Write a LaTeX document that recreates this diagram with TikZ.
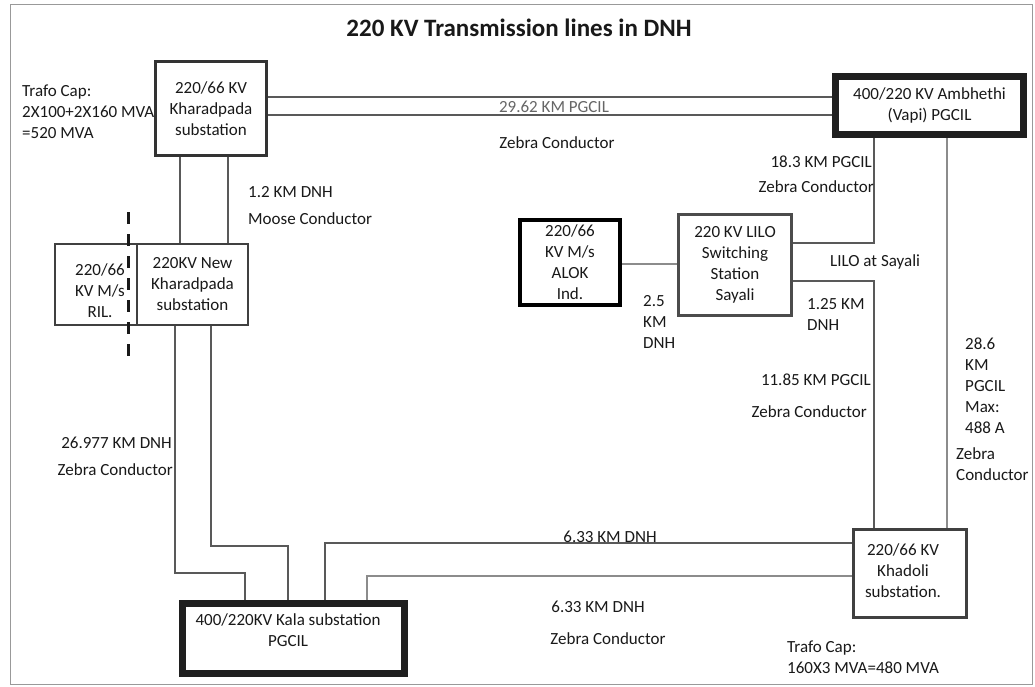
\documentclass[tikz,border=0pt]{standalone}
\usepackage{fontspec}
\setmainfont{Carlito}
\begin{document}
\begin{tikzpicture}[x=1pt,y=-1pt,
  box/.style={draw=black!85, inner sep=0pt, align=center, font=\fontsize{17}{21}\selectfont, text=black!90},
  lbl/.style={inner sep=0pt, font=\fontsize{17}{21}\selectfont, text=black!90},
  wire/.style={draw=black!65, line width=1.1pt},
  wiretwo/.style={draw=black!45, line width=1.4pt},
]
\useasboundingbox (0,0) rectangle (1035,687);
\fill[white] (0,0) rectangle (1035,687);
\draw[black!40, line width=1pt] (10,5) rectangle (1032,684);

% title
\node[inner sep=0pt, font=\bfseries\fontsize{25}{30}\selectfont, text=black!90] (title) at (519,28) {220 KV Transmission lines in DNH};

% boxes
\node[box, draw=black!80, line width=3pt, minimum width=111pt, minimum height=94pt] (kh) at (211,108.5) {220/66 KV\\Kharadpada\\substation};
\node[box, draw=black!88, line width=7pt, minimum width=188pt, minimum height=58pt] (amb) at (929.5,105.5) {400/220 KV Ambhethi\\(Vapi) PGCIL};
\node[box, draw=black!75, line width=2pt, minimum width=82pt, minimum height=81pt] (ril) at (96,284.5) {};
\node[lbl, align=center] (riltxt) at (100,291) {220/66\\KV M/s\\RIL.};
\node[box, draw=black!75, line width=2pt, minimum width=111pt, minimum height=81pt] (nkh) at (192.5,284.5) {220KV New\\Kharadpada\\substation};
\node[box, draw=black, line width=4pt, minimum width=100pt, minimum height=85pt] (alok) at (570,262.5) {220/66\\KV M/s\\ALOK\\Ind.};
\node[box, draw=black!70, line width=3pt, minimum width=113pt, minimum height=101pt] (lilo) at (735,265) {220 KV LILO\\Switching\\Station\\Sayali};
\node[box, draw=black!88, line width=7pt, minimum width=222pt, minimum height=70pt] (kala) at (293.5,638.5) {};
\node[lbl, align=center] (kalatxt) at (288,630) {400/220KV Kala substation\\PGCIL};
\node[box, draw=black!75, line width=3pt, minimum width=113pt, minimum height=88pt] (khd) at (910,573.5) {};
\node[lbl, align=center] (khdtxt) at (903,571) {220/66 KV\\Khadoli\\substation.};

% dashed separator
\coordinate (d1) at (128,212);
\coordinate (d2) at (128,363);
\draw[line width=3pt, dash pattern=on 12pt off 10pt, black!90] (d1) -- (d2);

% connectors
\draw[wire] (kh.east |- 0,97) -- (amb.west |- 0,97);
\draw[wire] (kh.east |- 0,115) -- (amb.west |- 0,115);
\draw[wire] (kh.south -| 180,0) -- (nkh.north -| 180,0);
\draw[wire] (kh.south -| 228,0) -- (nkh.north -| 228,0);
\draw[wire] (nkh.south -| 175,0) |- (245,573) -- (kala.north -| 245,0);
\draw[wire] (nkh.south -| 211,0) |- (288,546) -- (kala.north -| 288,0);
\draw[wire] (kala.north -| 325,0) |- (khd.west |- 0,543);
\draw[wiretwo] (kala.north -| 367,0) |- (khd.west |- 0,576);
\draw[wire] (lilo.east |- 0,243) -| (amb.south -| 874,0);
\draw[wire] (lilo.east |- 0,281) -| (khd.north -| 874,0);
\draw[wiretwo] (amb.south -| 947,0) -- (khd.north -| 947,0);
\draw[wiretwo] (alok.east |- 0,264) -- (lilo.west |- 0,264);

% labels
\node[lbl, align=left, anchor=west] (trafoa) at (22,112) {Trafo Cap:\\2X100+2X160 MVA\\=520 MVA};
\node[lbl, text=black!60] (l2962) at (554,107) {29.62 KM PGCIL};
\node[lbl] (zebraa) at (557,143) {Zebra Conductor};
\node[lbl, anchor=east] (l183) at (872,162) {18.3 KM PGCIL};
\node[lbl, anchor=east] (zebrab) at (874,187) {Zebra Conductor};
\node[lbl, anchor=west] (l12) at (248,192) {1.2 KM DNH};
\node[lbl, anchor=west] (moose) at (248,219) {Moose Conductor};
\node[lbl, anchor=east] (l26977) at (172,443) {26.977 KM DNH};
\node[lbl, anchor=east] (zebrac) at (173,470) {Zebra Conductor};
\node[lbl, align=left, anchor=west] (l25) at (643,322) {2.5\\KM\\DNH};
\node[lbl, anchor=west] (lilolbl) at (830,262) {LILO at Sayali};
\node[lbl, align=left, anchor=west] (l125) at (807,314) {1.25 KM\\DNH};
\node[lbl, anchor=east] (l1185) at (871,380) {11.85 KM PGCIL};
\node[lbl, anchor=east] (zebrad) at (867,412) {Zebra Conductor};
\node[lbl, align=left, anchor=west] (l286) at (965,386) {28.6\\KM\\PGCIL\\Max:\\488 A};
\node[lbl, align=left, anchor=west] (zebrae) at (956,464) {Zebra\\Conductor};
\node[lbl] (l633a) at (610,537) {6.33 KM DNH};
\node[lbl] (l633b) at (598,607) {6.33 KM DNH};
\node[lbl] (zebraf) at (608,639) {Zebra Conductor};
\node[lbl, align=left, anchor=west] (trafob) at (787,657) {Trafo Cap:\\160X3 MVA=480 MVA};
\end{tikzpicture}
\end{document}
